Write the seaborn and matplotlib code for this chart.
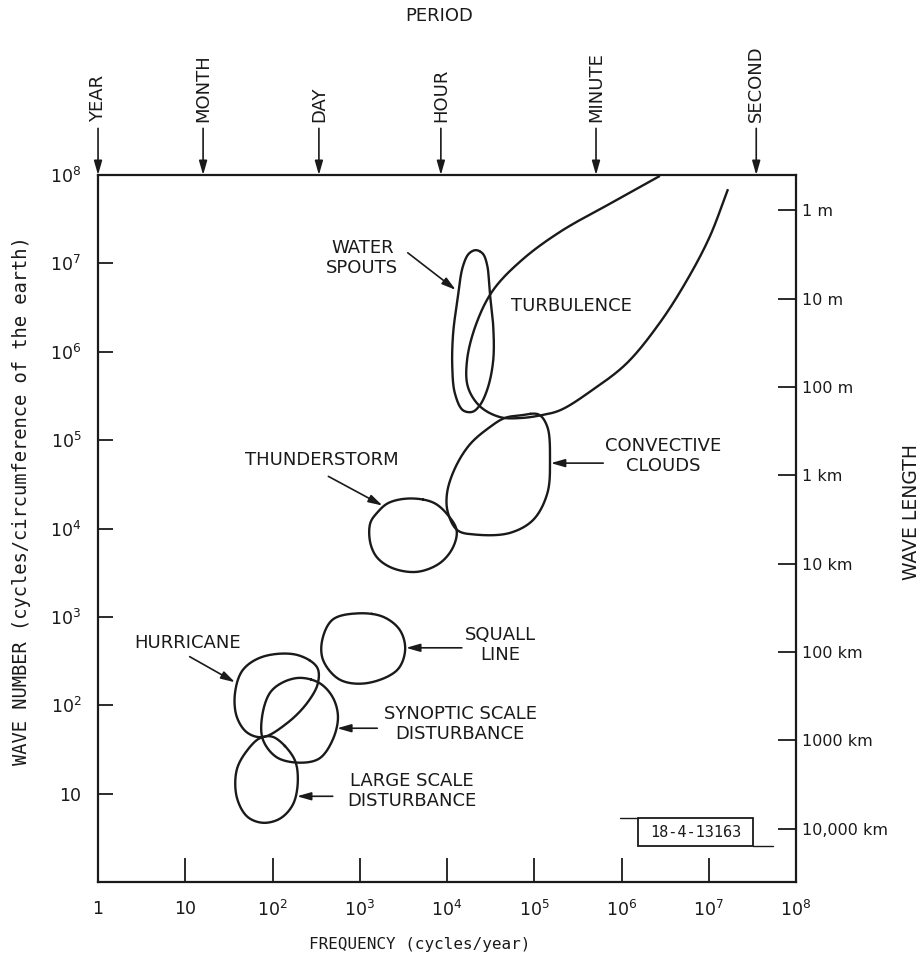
import numpy as np
import pandas as pd
import matplotlib
matplotlib.use("Agg")
import matplotlib.pyplot as plt
from matplotlib.patches import Rectangle
import seaborn as sns

# ---------------------------------------------------------------------------
# Outlines of the atmospheric phenomena, given as log10(frequency, cycles/yr)
# and log10(wave number, cycles per circumference of the earth).
# ---------------------------------------------------------------------------
turb_logf = [6.44, 5.95, 5.30, 4.86, 4.53, 4.34, 4.23, 4.24, 4.38, 4.61, 4.84,
             5.07, 5.30, 5.67, 6.06, 6.44, 6.75, 7.01, 7.22]
turb_logk = [7.99, 7.72, 7.36, 7.04, 6.70, 6.33, 5.91, 5.60, 5.38, 5.26, 5.25,
             5.28, 5.34, 5.57, 5.87, 6.33, 6.81, 7.30, 7.84]

spout_logf = [4.33, 4.41, 4.46, 4.49, 4.53, 4.53, 4.47, 4.38, 4.29, 4.18, 4.09,
              4.06, 4.07, 4.12, 4.18, 4.25]
spout_logk = [7.15, 7.11, 6.98, 6.67, 6.28, 5.91, 5.60, 5.40, 5.32, 5.34, 5.53,
              5.83, 6.21, 6.59, 6.96, 7.11]

conv_logf = [4.84, 5.05, 5.15, 5.18, 5.15, 4.99, 4.72, 4.34, 4.12, 4.01, 4.00,
             4.09, 4.26, 4.48, 4.66]
conv_logk = [5.28, 5.29, 5.15, 4.78, 4.40, 4.10, 3.95, 3.93, 3.98, 4.18, 4.40,
             4.68, 4.95, 5.14, 5.25]

thunder_logf = [3.58, 3.85, 4.02, 4.11, 4.07, 3.92, 3.66, 3.38, 3.20, 3.12, 3.12,
                3.20, 3.33]
thunder_logk = [4.34, 4.29, 4.14, 3.98, 3.79, 3.61, 3.51, 3.55, 3.67, 3.84, 4.06,
                4.18, 4.29]

squall_logf = [2.98, 3.27, 3.46, 3.52, 3.43, 3.08, 2.77, 2.58, 2.57, 2.69]
squall_logk = [3.04, 3.00, 2.85, 2.63, 2.40, 2.25, 2.29, 2.51, 2.74, 2.97]

hurr_logf = [2.28, 2.51, 2.52, 2.40, 2.17, 1.89, 1.71, 1.59, 1.57, 1.66, 1.89]
hurr_logk = [2.57, 2.43, 2.25, 2.03, 1.80, 1.64, 1.69, 1.87, 2.14, 2.40, 2.55]

synop_logf = [2.32, 2.54, 2.69, 2.75, 2.69, 2.54, 2.32, 2.05, 1.89, 1.88, 1.97, 2.12]
synop_logk = [2.31, 2.25, 2.09, 1.87, 1.61, 1.40, 1.35, 1.41, 1.61, 1.87, 2.14, 2.26]

large_logf = [2.01, 2.24, 2.29, 2.24, 2.09, 1.89, 1.71, 1.59, 1.59, 1.71, 1.86]
large_logk = [1.64, 1.41, 1.19, 0.89, 0.72, 0.67, 0.74, 0.96, 1.27, 1.49, 1.63]

# Turbulence stays open at the high-wave-number end
regions = [
    (turb_logf, turb_logk, False),
    (spout_logf, spout_logk, True),
    (conv_logf, conv_logk, True),
    (thunder_logf, thunder_logk, True),
    (squall_logf, squall_logk, True),
    (hurr_logf, hurr_logk, True),
    (synop_logf, synop_logk, True),
    (large_logf, large_logk, True),
]

# Region names, label centres and pointer arrows (log10 units)
label_text = ["WATER\nSPOUTS", "TURBULENCE", "CONVECTIVE\nCLOUDS", "THUNDERSTORM",
              "SQUALL\nLINE", "HURRICANE", "SYNOPTIC SCALE\nDISTURBANCE",
              "LARGE SCALE\nDISTURBANCE"]
label_logf = [3.03, 5.43, 6.48, 2.57, 4.61, 1.03, 4.15, 3.60]
label_logk = [7.06, 6.52, 4.82, 4.78, 2.68, 2.70, 1.79, 1.03]

arrow_from_logf = [3.55, 5.79, 2.64, 4.17, 1.05, 3.20, 2.69]
arrow_from_logk = [7.12, 4.74, 4.59, 2.65, 2.55, 1.74, 0.97]
arrow_to_logf = [4.10, 5.19, 3.26, 3.53, 1.57, 2.74, 2.28]
arrow_to_logk = [6.70, 4.74, 4.26, 2.65, 2.26, 1.74, 0.97]

# Period markers along the top (frequency in cycles/yr)
period_names = ["YEAR", "MONTH", "DAY", "HOUR", "MINUTE", "SECOND"]
period_freq = [1, 16, 340, 8500, 5.1e5, 3.5e7]

# Axis ticks
freq_ticks = [1, 10, 1e2, 1e3, 1e4, 1e5, 1e6, 1e7, 1e8]
freq_labels = ["1", "10", "$10^2$", "$10^3$", "$10^4$", "$10^5$", "$10^6$",
               "$10^7$", "$10^8$"]
wn_ticks = [10, 1e2, 1e3, 1e4, 1e5, 1e6, 1e7, 1e8]
wn_labels = ["10", "$10^2$", "$10^3$", "$10^4$", "$10^5$", "$10^6$", "$10^7$",
             "$10^8$"]

# Wave length scale on the right: wave number = circumference / wave length
earth_circumference_m = 4.0e7
wl_meters = [1, 10, 100, 1e3, 1e4, 1e5, 1e6, 1e7]
wl_labels = ["1 m", "10 m", "100 m", "1 km", "10 km", "100 km", "1000 km",
             "10,000 km"]


def centripetal_spline(xs, ys, closed, n=40):
    """Centripetal Catmull-Rom curve through the points (in log space)."""
    p = np.column_stack([xs, ys]).astype(float)
    if closed:
        p = np.vstack([p[-1], p, p[0], p[1]])
    else:
        p = np.vstack([2 * p[0] - p[1], p, 2 * p[-1] - p[-2]])
    segs = []
    for i in range(1, len(p) - 2):
        p0, p1, p2, p3 = p[i - 1], p[i], p[i + 1], p[i + 2]
        t0 = 0.0
        t1 = t0 + np.linalg.norm(p1 - p0) ** 0.5
        t2 = t1 + np.linalg.norm(p2 - p1) ** 0.5
        t3 = t2 + np.linalg.norm(p3 - p2) ** 0.5
        t = np.linspace(t1, t2, n, endpoint=False)[:, None]
        a1 = (t1 - t) / (t1 - t0) * p0 + (t - t0) / (t1 - t0) * p1
        a2 = (t2 - t) / (t2 - t1) * p1 + (t - t1) / (t2 - t1) * p2
        a3 = (t3 - t) / (t3 - t2) * p2 + (t - t2) / (t3 - t2) * p3
        b1 = (t2 - t) / (t2 - t0) * a1 + (t - t0) / (t2 - t0) * a2
        b2 = (t3 - t) / (t3 - t1) * a2 + (t - t1) / (t3 - t1) * a3
        segs.append((t2 - t) / (t2 - t1) * b1 + (t - t1) / (t2 - t1) * b2)
    curve = np.vstack(segs)
    if closed:
        # begin part-way along the first arc and close with a short overlap
        curve = np.roll(curve, -n // 2, axis=0)
        curve = np.vstack([curve, curve[:3]])
    else:
        curve = np.vstack([curve, p[-2][None]])
    return curve


sns.set_theme(style="ticks")
plt.rcParams["font.family"] = ["DejaVu Sans"]
plt.rcParams["mathtext.default"] = "regular"

fig = plt.figure(figsize=(9.24, 9.67), dpi=100)
ax = fig.add_axes([0.1061, 0.0879, 0.7554, 0.7311])
ax.set_xscale("log")
ax.set_yscale("log")

ink = "#1a1a1a"
mono = ["DejaVu Sans Mono"]

# One table of outline vertices; each region is its own drawing unit
frames = []
for idx, (xs, ys, closed) in enumerate(regions):
    curve = centripetal_spline(xs, ys, closed)
    frames.append(pd.DataFrame({"freq": 10 ** curve[:, 0],
                                "wn": 10 ** curve[:, 1],
                                "region": idx}))
outlines = pd.concat(frames, ignore_index=True)
sns.lineplot(data=outlines, x="freq", y="wn", units="region", sort=False,
             estimator=None, errorbar=None, color=ink, linewidth=1.7,
             solid_capstyle="butt", solid_joinstyle="round", ax=ax)

ax.set_xlim(1, 1e8)
ax.set_ylim(1, 1e8)

# Region labels
for txt, lf, lk in zip(label_text, label_logf, label_logk):
    ax.text(10 ** lf, 10 ** lk, txt, ha="center", va="center", fontsize=13,
            color=ink, linespacing=1.15)

# Pointer arrows
for f0, k0, f1, k1 in zip(arrow_from_logf, arrow_from_logk,
                          arrow_to_logf, arrow_to_logk):
    ax.annotate("", xy=(10 ** f1, 10 ** k1), xytext=(10 ** f0, 10 ** k0),
                arrowprops=dict(arrowstyle="-|>,head_length=0.7,head_width=0.2",
                                color=ink, lw=1.2, shrinkA=0, shrinkB=0))

# Period arrows along the top edge
for name, f in zip(period_names, period_freq):
    ax.annotate("", xy=(f, 1.0), xytext=(f, 1.066),
                xycoords=("data", "axes fraction"),
                textcoords=("data", "axes fraction"),
                arrowprops=dict(arrowstyle="-|>,head_length=0.7,head_width=0.2",
                                color=ink, lw=1.2, shrinkA=0, shrinkB=0),
                annotation_clip=False)
    ax.text(f, 1.075, name, transform=ax.get_xaxis_transform(), rotation=90,
            ha="center", va="bottom", fontsize=13, color=ink)

ax.text(0.489, 1.225, "PERIOD", transform=ax.transAxes, ha="center",
        va="center", fontsize=13, color=ink)

# Bottom and left axes
ax.set_xticks(freq_ticks)
ax.set_xticklabels(freq_labels)
ax.set_yticks(wn_ticks)
ax.set_yticklabels(wn_labels)
ax.minorticks_off()
ax.tick_params(axis="x", direction="in", length=17, width=1.3, pad=13,
               labelsize=12.5, colors=ink, top=False)
ax.tick_params(axis="y", direction="in", length=11, width=1.3, pad=12,
               labelsize=12.5, colors=ink, right=False)
ax.set_xlabel("")
ax.set_ylabel("")
ax.text(0.461, -0.089, "FREQUENCY (cycles/year)", transform=ax.transAxes,
        ha="center", va="center", fontsize=11.5, color=ink, family=mono)
ax.text(-0.109, 0.540, "WAVE NUMBER (cycles/circumference of the earth)",
        transform=ax.transAxes, rotation=90, ha="center", va="center",
        fontsize=13.5, color=ink, family=mono)

for side in ["left", "right", "top", "bottom"]:
    ax.spines[side].set_linewidth(1.6)
    ax.spines[side].set_color(ink)

# Right-hand wave length scale
ax2 = ax.twinx()
ax2.set_yscale("log")
ax2.set_ylim(ax.get_ylim())
ax2.set_yticks([earth_circumference_m / w for w in wl_meters])
ax2.set_yticklabels(wl_labels)
ax2.minorticks_off()
ax2.tick_params(axis="y", direction="in", length=13, width=1.3, pad=4,
                labelsize=11.5, colors=ink)
for side in ["left", "right", "top", "bottom"]:
    ax2.spines[side].set_visible(False)
ax.text(1.166, 0.523, "WAVE LENGTH", transform=ax.transAxes, rotation=90,
        ha="center", va="center", fontsize=13.5, color=ink)

# Drawing number stamp
ax.add_patch(Rectangle((0.774, 0.0509), 0.164, 0.0396, transform=ax.transAxes,
                       fill=False, ec=ink, lw=1.3))
ax.plot([0.748, 0.774], [0.0905, 0.0905], transform=ax.transAxes, color=ink, lw=1.0)
ax.plot([0.938, 0.967], [0.0509, 0.0509], transform=ax.transAxes, color=ink, lw=1.0)
ax.text(0.856, 0.0707, "18-4-13163", transform=ax.transAxes, ha="center",
        va="center", fontsize=11, color=ink, family=mono)

fig.savefig("out.png", dpi=100)
